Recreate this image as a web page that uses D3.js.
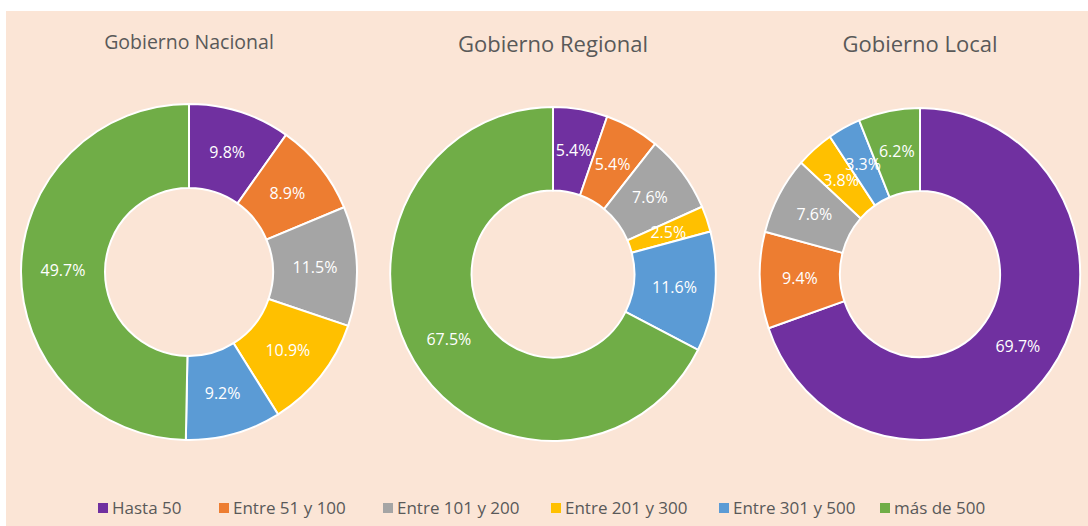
<!DOCTYPE html>
<html>
<head>
<meta charset="utf-8">
<script src="https://cdn.jsdelivr.net/npm/d3@7"></script>
<style>
  body { margin: 0; background: #fff; }
  svg { display: block; }
</style>
</head>
<body>
<svg id="chart" width="1088" height="526"></svg>
<script>
const categories = ["Hasta 50", "Entre 51 y 100", "Entre 101 y 200", "Entre 201 y 300", "Entre 301 y 500", "más de 500"];
const colors = ["#7030A0", "#ED7D31", "#A5A5A5", "#FFC000", "#5B9BD5", "#70AD47"];

const titles = ["Gobierno Nacional", "Gobierno Regional", "Gobierno Local"];
const nacional = [9.8, 8.9, 11.5, 10.9, 9.2, 49.7];
const regional = [5.4, 5.4, 7.6, 2.5, 11.6, 67.5];
const local = [69.7, 9.4, 7.6, 3.8, 3.3, 6.2];

const svg = d3.select("#chart");
const font = "'Open Sans', sans-serif";

// background panel
svg.append("rect")
  .attr("x", 6).attr("y", 11)
  .attr("width", 1082).attr("height", 515)
  .attr("fill", "#FBE5D6");

// the screenshot is a bit squeezed sideways, so sx < 1
const panels = [
  { title: titles[0], values: nacional, cx: 189, cy: 272, r: 168, sx: 1, ty: 49, fs: 19.5 },
  { title: titles[1], values: regional, cx: 553, cy: 274, r: 167, sx: 0.975, ty: 52, fs: 22 },
  { title: titles[2], values: local, cx: 920, cy: 274, r: 166, sx: 0.965, ty: 52, fs: 22 }
];

const pie = d3.pie().sort(null).value(d => d);
const color = d3.scaleOrdinal().domain(categories).range(colors);

panels.forEach(p => {
  const g = svg.append("g").attr("transform", `translate(${p.cx},${p.cy})`);
  const arc = d3.arc().innerRadius(p.r * 0.5).outerRadius(p.r);
  const arcs = pie(p.values);

  g.append("g")
    .attr("transform", `scale(${p.sx},1)`)
    .selectAll("path")
    .data(arcs)
    .enter()
    .append("path")
    .attr("d", arc)
    .attr("fill", (d, i) => color(categories[i]))
    .attr("stroke", "#fff")
    .attr("stroke-width", 2);

  g.selectAll("text")
    .data(arcs)
    .enter()
    .append("text")
    .attr("transform", d => {
      const c = arc.centroid(d);
      return `translate(${c[0] * p.sx},${c[1]})`;
    })
    .attr("text-anchor", "middle")
    .attr("dy", "0.35em")
    .attr("fill", "#fff")
    .attr("font-family", font)
    .attr("font-size", 16)
    .text(d => d.data.toFixed(1) + "%");

  svg.append("text")
    .attr("x", p.cx)
    .attr("y", p.ty)
    .attr("text-anchor", "middle")
    .attr("fill", "#595959")
    .attr("font-family", font)
    .attr("font-size", p.fs)
    .text(p.title);
});

// legend
const legendX = [98, 219, 383, 551, 719, 880];
const legend = svg.append("g")
  .selectAll("g")
  .data(categories)
  .enter()
  .append("g")
  .attr("transform", (d, i) => `translate(${legendX[i]},508)`);

legend.append("rect")
  .attr("x", 0).attr("y", -5)
  .attr("width", 10).attr("height", 10)
  .attr("fill", d => color(d));

legend.append("text")
  .attr("x", 14)
  .attr("y", 0)
  .attr("dy", "0.35em")
  .attr("fill", "#595959")
  .attr("font-family", font)
  .attr("font-size", 17)
  .text(d => d);
</script>
</body>
</html>
